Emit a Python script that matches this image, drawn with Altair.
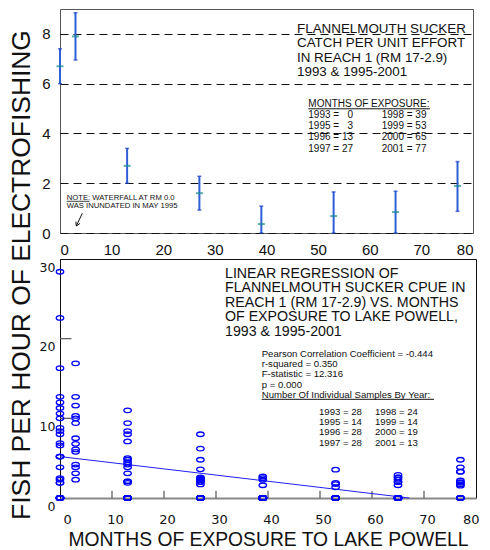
import altair as alt
import pandas as pd

# ---------------- data ----------------
months = [0, 3, 13, 27, 39, 53, 65, 77]
years = [1993, 1995, 1996, 1997, 1998, 1999, 2000, 2001]
cpue_mean = [6.7, 7.9, 2.7, 1.6, 0.36, 0.68, 0.84, 1.89]
cpue_low = [6.0, 6.95, 2.0, 0.92, 0.0, 0.0, 0.0, 0.87]
cpue_high = [7.4, 8.85, 3.4, 2.28, 1.08, 1.65, 1.68, 2.87]

samples_1993 = [28.4, 22.6, 16.3, 12.7, 12.0, 11.3, 10.6, 10.0, 8.8, 8.4, 8.0, 6.9, 6.6,
                5.2, 5.2, 5.2, 3.85, 2.5, 2.3, 1.9, 1.9, 0, 0, 0, 0, 0, 0, 0]
samples_1995 = [16.9, 12.7, 11.6, 10.3, 10.0, 9.4, 7.5, 6.8, 6.1, 5.8, 4.2, 3.85, 3.1, 2.3]
samples_1996 = [11.0, 9.4, 8.4, 8.0, 7.1, 5.0, 4.8, 4.5, 4.2, 3.85, 3.1, 2.1, 2.1, 1.9,
                0, 0, 0, 0, 0, 0, 0, 0, 0, 0, 0, 0, 0, 0]
samples_1997 = [8.0, 6.2, 4.8, 3.6, 2.6, 2.5, 2.4, 2.4, 2.3, 2.2, 2.2, 2.0, 2.0, 1.7,
                0, 0, 0, 0, 0, 0, 0, 0, 0, 0, 0, 0, 0, 0]
samples_1998 = [2.7, 2.5, 2.3, 1.6] + [0] * 20
samples_1999 = [3.55, 1.9, 1.75, 1.35] + [0] * 10
samples_2000 = [2.9, 2.6, 2.6, 2.3, 2.0, 2.0, 1.6] + [0] * 12
samples_2001 = [4.8, 3.85, 3.3, 3.3, 2.2, 2.0, 1.9, 1.7, 1.55] + [0] * 4
samples = [samples_1993, samples_1995, samples_1996, samples_1997,
           samples_1998, samples_1999, samples_2000, samples_2001]

reg_months = [0, 67.2]
reg_cpue = [5.2, 0.0]

x_ticks = [0, 10, 20, 30, 40, 50, 60, 70, 80]
inner_x_ticks = [10, 20, 30, 40, 50, 60, 70]
inner_y_ticks = [10, 20]

FS = "\u2007"  # figure space keeps the single-digit values aligned
y_title = "FISH PER HOUR OF ELECTROFISHING"
x_title = "MONTHS OF EXPOSURE TO LAKE POWELL"
top_title = ["FLANNELMOUTH SUCKER", "CATCH PER UNIT EFFORT", "IN REACH 1 (RM 17-2.9)", "1993 & 1995-2001"]
exp_head = "MONTHS OF EXPOSURE:"
exp_col1 = ["1993 = " + FS + "0", "1995 = " + FS + "3", "1996 = 13", "1997 = 27"]
exp_col2 = ["1998 = 39", "1999 = 53", "2000 = 65", "2001 = 77"]
note_lines = ["NOTE:  WATERFALL AT RM 0.0", "WAS INUNDATED IN MAY 1995"]
bot_title = ["LINEAR REGRESSION OF", "FLANNELMOUTH SUCKER CPUE IN", "REACH 1 (RM 17-2.9) VS. MONTHS",
             "OF EXPOSURE TO LAKE POWELL,", "1993 & 1995-2001"]
stats_lines = ["Pearson Correlation Coefficient = -0.444", "r-squared = 0.350",
               "F-statistic = 12.316", "p = 0.000", "Number Of Individual Samples By Year:"]
n_col1 = ["1993 = 28", "1995 = 14", "1996 = 28", "1997 = 28"]
n_col2 = ["1998 = 24", "1999 = 14", "2000 = 19", "2001 = 13"]

# ---------------- tables ----------------
top_df = pd.DataFrame({"m": months, "mean": cpue_mean, "lo": cpue_low, "hi": cpue_high})
scat_df = pd.DataFrame(
    [{"m": m, "cpue": v} for m, vals in zip(months, samples) for v in vals]
)
reg_df = pd.DataFrame({"m": reg_months, "cpue": reg_cpue})
xt_df = pd.DataFrame({"m": inner_x_ticks})
yt_df = pd.DataFrame({"v": inner_y_ticks})
one = pd.DataFrame({"a": [0]})

FONT = "Liberation Sans"
W1, H1 = 413, 224
W2, H2 = 416, 239


def txt(lines, x, y, size, lh=None, color="#111", font=FONT, **kw):
    mk = dict(text=lines, font=font, fontSize=size, align="left", baseline="alphabetic", color=color)
    if lh is not None:
        mk["lineHeight"] = lh
    mk.update(kw)
    return alt.Chart(one).mark_text(**mk).encode(x=alt.value(x), y=alt.value(y))


def hline(x1, x2, y, color="#111", w=1.0):
    return alt.Chart(one).mark_rule(color=color, strokeWidth=w).encode(
        x=alt.value(x1), x2=alt.value(x2), y=alt.value(y))


def seg(x1, y1, x2, y2, color="#111", w=1.0):
    return alt.Chart(one).mark_rule(color=color, strokeWidth=w).encode(
        x=alt.value(x1), x2=alt.value(x2), y=alt.value(y1), y2=alt.value(y2))


# ---------------- top panel ----------------
xs1 = alt.Scale(domain=[0, 80], nice=False)
ys1 = alt.Scale(domain=[0, 9], nice=False)
b1 = alt.Chart(top_df)
bars = b1.mark_rule(color="#2f5fd6", strokeWidth=2).encode(
    x=alt.X("m:Q", scale=xs1, axis=alt.Axis(values=x_ticks, ticks=False, grid=False, domain=False,
                                            labelFont=FONT, labelFontSize=15, labelPadding=9,
                                            labelColor="#111", title=None)),
    y=alt.Y("lo:Q", scale=ys1, axis=alt.Axis(values=[0, 2, 4, 6, 8], ticks=False, grid=True,
                                             gridDash=[8, 5], gridColor="#111", gridWidth=1.1,
                                             domain=False, labelFont=FONT, labelFontSize=15,
                                             labelPadding=10, labelColor="#111", title=None)),
    y2="hi:Q",
)
cap_lo = b1.mark_tick(orient="horizontal", size=4, thickness=1.5, color="#1a3fc0").encode(x="m:Q", y="lo:Q")
cap_hi = b1.mark_tick(orient="horizontal", size=4, thickness=1.5, color="#1a3fc0").encode(x="m:Q", y="hi:Q")
means = b1.mark_tick(orient="horizontal", size=7, thickness=2, color="#178c8c").encode(x="m:Q", y="mean:Q")

ytitle = alt.Chart(one).mark_text(text=y_title, angle=270, font=FONT, fontSize=26.4, align="center",
                                  baseline="middle", color="#111").encode(
    x=alt.value(-38), y=alt.value(266))

top = alt.layer(
    bars, cap_lo, cap_hi, means,
    txt(top_title, 237, 24.3, 13.4, lh=14.2),
    txt([exp_head], 248.3, 98, 10),
    hline(248.3, 370, 99.8),
    txt(exp_col1, 248.3, 108.7, 10, lh=11.4),
    txt(exp_col2, 321.7, 108.7, 10, lh=11.4),
    txt(note_lines, 6.7, 191, 7.7, lh=8.3),
    hline(6.7, 29.5, 192.3, w=0.8),
    seg(22.3, 204.3, 16.3, 217),
    seg(16.3, 217, 20.0, 214.4),
    seg(16.3, 217, 15.9, 212.5),
    ytitle,
).properties(width=W1, height=H1, view=alt.ViewBackground(stroke="#555", strokeWidth=1))

# ---------------- bottom panel ----------------
xs2 = alt.Scale(domain=[0, 80], nice=False)
ys2 = alt.Scale(domain=[0, 30], nice=False)
ELLIPSE = "M -1 0 A 1 0.6 0 1 0 1 0 A 1 0.6 0 1 0 -1 0 Z"
scatter = alt.Chart(scat_df).mark_point(shape=ELLIPSE, size=56, filled=False, color="#0000ff",
                                        strokeWidth=1.3, opacity=1).encode(
    x=alt.X("m:Q", scale=xs2, axis=alt.Axis(values=x_ticks, ticks=False, grid=False, domainColor="#888",
                                            domainWidth=2, labelFont="DejaVu Sans", labelFontSize=13,
                                            labelPadding=15, labelOffset=3, labelColor="#111",
                                            title=x_title, titleFont=FONT, titleFontSize=19.3,
                                            titleFontWeight="normal", titleColor="#111",
                                            titleBaseline="middle", titleY=41)),
    y=alt.Y("cpue:Q", scale=ys2, axis=alt.Axis(values=[0, 10, 20, 30], ticks=False, grid=False,
                                               domainColor="#111", labelFont="DejaVu Sans",
                                               labelFontSize=12.5, labelPadding=5, labelOffset=8,
                                               labelColor="#111", title=None)),
)
reg = alt.Chart(reg_df).mark_line(color="#2020ee", strokeWidth=1).encode(x="m:Q", y="cpue:Q")
xt = alt.Chart(xt_df).mark_rule(color="#333", strokeWidth=1).encode(
    x="m:Q", y=alt.datum(0), y2=alt.datum(0.9))
yt = alt.Chart(yt_df).mark_rule(color="#555", strokeWidth=1.2).encode(
    y="v:Q", x=alt.datum(0), x2=alt.datum(2.2))

bottom = alt.layer(
    xt, yt, reg, scatter,
    txt(bot_title, 165, 18.7, 14.2, lh=14.5),
    txt(stats_lines, 201.7, 98, 9.6, lh=10.2),
    hline(201.7, 374, 140.3),
    txt(n_col1, 259, 155.7, 9.6, lh=10.4),
    txt(n_col2, 315, 155.7, 9.6, lh=10.4),
).properties(width=W2, height=H2, view=alt.ViewBackground(stroke="#111", strokeWidth=1))

chart = alt.vconcat(top, bottom, spacing=26, bounds="flush").properties(
    padding=0, background="white"
).configure(font=FONT)

chart.save("out.html", embed_options={"renderer": "svg", "actions": False})
